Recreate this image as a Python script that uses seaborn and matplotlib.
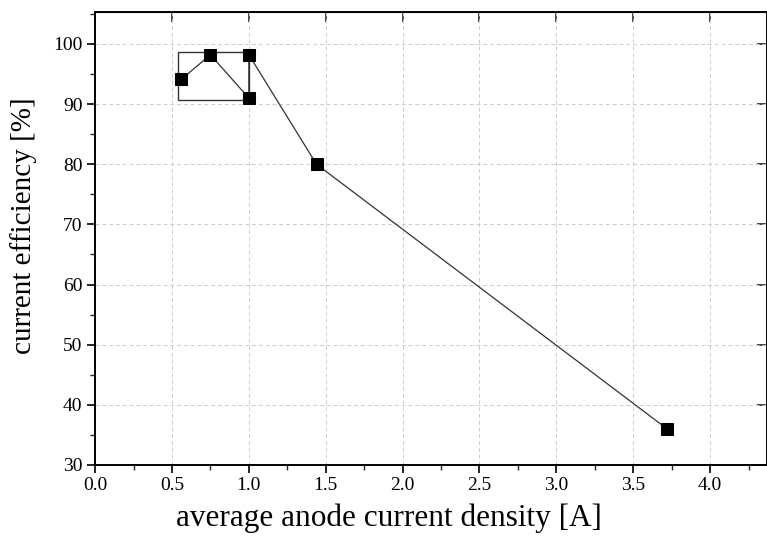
import numpy as np
import pandas as pd
import matplotlib
matplotlib.use("Agg")
import matplotlib.pyplot as plt
import matplotlib.patches as patches
from matplotlib.ticker import MultipleLocator, NullLocator
import seaborn as sns

# data
current_density = [0.56, 0.75, 1.0, 1.0, 1.44, 3.72]
efficiency = [94.1, 98.2, 91.0, 98.2, 80.0, 36.0]

# box drawn round the low-density points
box_x = [0.54, 1.0]
box_y = [90.6, 98.6]

x_ticks = [0.0, 0.5, 1.0, 1.5, 2.0, 2.5, 3.0, 3.5, 4.0]

df = pd.DataFrame({"x": current_density, "y": efficiency})

sns.set_style("white")
plt.rcParams["font.family"] = ["Liberation Serif", "DejaVu Serif"]
plt.rcParams["text.color"] = "black"
plt.rcParams["axes.labelcolor"] = "black"

fig = plt.figure(figsize=(7.67, 5.36), dpi=100)
ax = fig.add_axes([0.124, 0.1325, 0.876, 0.845])

sns.lineplot(data=df, x="x", y="y", sort=False, estimator=None, ax=ax,
             color="#333333", linewidth=0.9, marker="s", markersize=9,
             markerfacecolor="black", markeredgecolor="black")

ax.add_patch(patches.Rectangle((box_x[0], box_y[0]), box_x[1] - box_x[0],
                               box_y[1] - box_y[0], fill=False,
                               edgecolor="#333333", linewidth=1.0, zorder=1))

ax.set_xlim(0, 4.37)
ax.set_ylim(30, 105.3)
ax.set_xticks(x_ticks)
ax.set_xticklabels([f"{v:.1f}" for v in x_ticks])
ax.xaxis.set_minor_locator(MultipleLocator(0.25))
ax.yaxis.set_major_locator(MultipleLocator(10))
ax.yaxis.set_minor_locator(MultipleLocator(5))

ax.grid(True, which="major", color="#cccccc", linestyle=(0, (4, 3)), linewidth=0.7)
ax.set_axisbelow(True)

for s in ax.spines.values():
    s.set_color("black")
    s.set_linewidth(1.4)

ax.tick_params(axis="both", which="major", direction="out", length=6, width=1.2,
               labelsize=14, colors="black", bottom=True, left=True, pad=3)
ax.tick_params(axis="both", which="minor", direction="out", length=3.5, width=1.0,
               bottom=True, left=True)

# inward major ticks on top and right
sx = ax.secondary_xaxis("top")
sx.set_xticks(x_ticks)
sx.xaxis.set_minor_locator(NullLocator())
sx.tick_params(which="major", direction="in", length=7, width=1.2, labeltop=False)
sy = ax.secondary_yaxis("right")
sy.yaxis.set_major_locator(MultipleLocator(10))
sy.yaxis.set_minor_locator(NullLocator())
sy.tick_params(which="major", direction="in", length=7, width=1.2, labelright=False)

ax.set_xlabel("average anode current density [A]", fontsize=22.5)
ax.set_ylabel("current efficiency [%]", fontsize=21)
ax.xaxis.set_label_coords(0.4375, -0.086)
ax.yaxis.set_label_coords(-0.086, 0.528)

fig.savefig("out.png", dpi=100)
